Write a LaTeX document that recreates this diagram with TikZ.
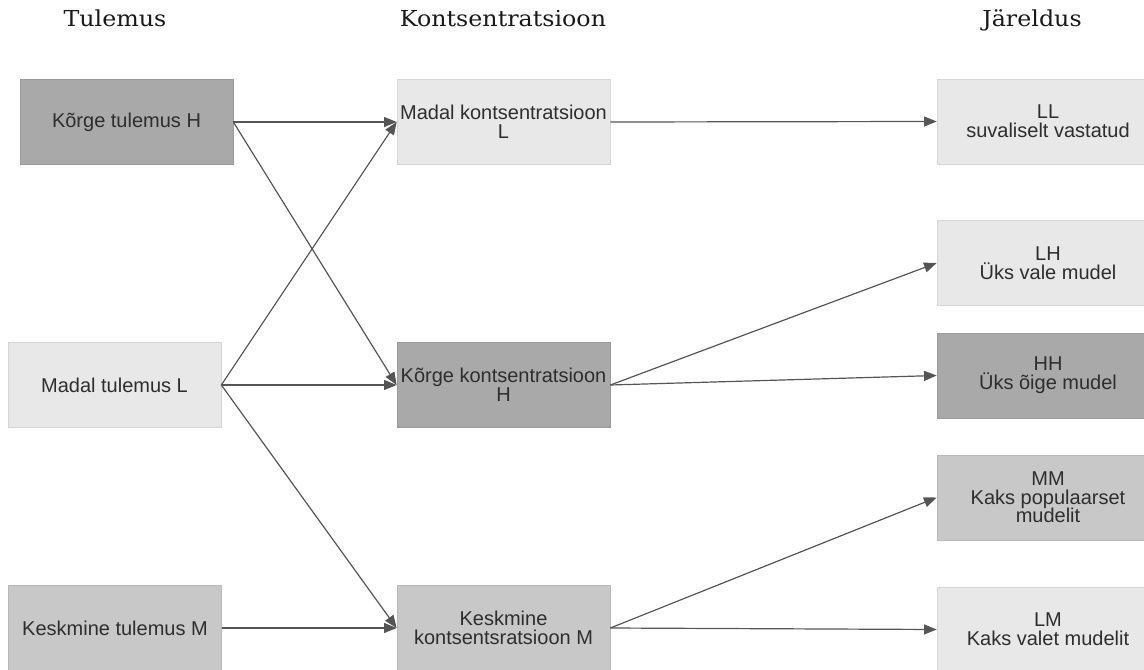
\documentclass[tikz,border=0pt]{standalone}
\usepackage{fontspec}
\setmainfont{Liberation Sans}
\newfontfamily\headfont{DejaVu Serif}[FakeStretch=1.08]
\usetikzlibrary{arrows.meta}
\definecolor{boxdark}{HTML}{A9A9A9}
\definecolor{boxmid}{HTML}{C8C8C8}
\definecolor{boxlight}{HTML}{E8E8E8}
\definecolor{linegray}{HTML}{555555}
\definecolor{txt}{HTML}{2E2E2E}
\begin{document}
\begin{tikzpicture}[x=0.75pt,y=-0.75pt,
  base/.style={rectangle, inner sep=0pt, align=center, text=txt,
    font=\fontsize{15}{14}\selectfont, line width=0.5pt,
    minimum width=159.75pt, minimum height=63.75pt},
  wide/.style={minimum width=166.5pt},
  dark/.style={base, fill=boxdark, draw=boxdark!92!black},
  mid/.style={base, fill=boxmid, draw=boxmid!92!black},
  light/.style={base, fill=boxlight, draw=boxlight!92!black},
  head/.style={anchor=base, font=\headfont\fontsize{16.5}{19}\selectfont, text=black!90},
  arr/.style={draw=linegray, line width=0.9pt, -{Triangle[length=9.5pt,width=7.5pt]}}]
\useasboundingbox (0,0) rectangle (1144,670);
\clip (0,0) rectangle (1144,670);

% headers
\node[head] (h1) at (115,27) {Tulemus};
\node[head] (h2) at (503,27) {Kontsentratsioon};
\node[head] (h3) at (1032,27) {Järeldus};

% left column
\node[dark]  (kh) at (126.5,122) {Kõrge tulemus H};
\node[light] (ml) at (114.5,385) {Madal tulemus L};
\node[mid]   (km) at (115,628)   {Keskmine tulemus M};

% middle column
\node[light] (cl) at (503.5,122) {Madal kontsentratsioon\\L};
\node[dark]  (ch) at (503.5,385) {Kõrge kontsentratsioon\\H};
\node[mid]   (cm) at (503.5,628) {Keskmine\\kontsentsratsioon M};

% right column
\node[light,wide] (ll) at (1048,121.5) {LL\\suvaliselt vastatud};
\node[light,wide] (lh) at (1048,263)   {LH\\Üks vale mudel};
\node[dark,wide]  (hh) at (1048,375.5) {HH\\Üks õige mudel};
\node[mid,wide]   (mm) at (1048,497.5) {MM\\Kaks populaarset\\mudelit};
\node[light,wide] (lm) at (1048,629.5) {LM\\Kaks valet mudelit};

% connectors
\draw[arr] (kh.east) -- (cl.west);
\draw[arr] (kh.east) -- (ch.west);
\draw[arr] (ml.east) -- (cl.west);
\draw[arr] (ml.east) -- (ch.west);
\draw[arr] (ml.east) -- (cm.west);
\draw[arr] (km.east) -- (cm.west);
\draw[arr] (cl.east) -- (ll.west);
\draw[arr] (ch.east) -- (lh.west);
\draw[arr] (ch.east) -- (hh.west);
\draw[arr] (cm.east) -- (mm.west);
\draw[arr] (cm.east) -- (lm.west);
\end{tikzpicture}
\end{document}
